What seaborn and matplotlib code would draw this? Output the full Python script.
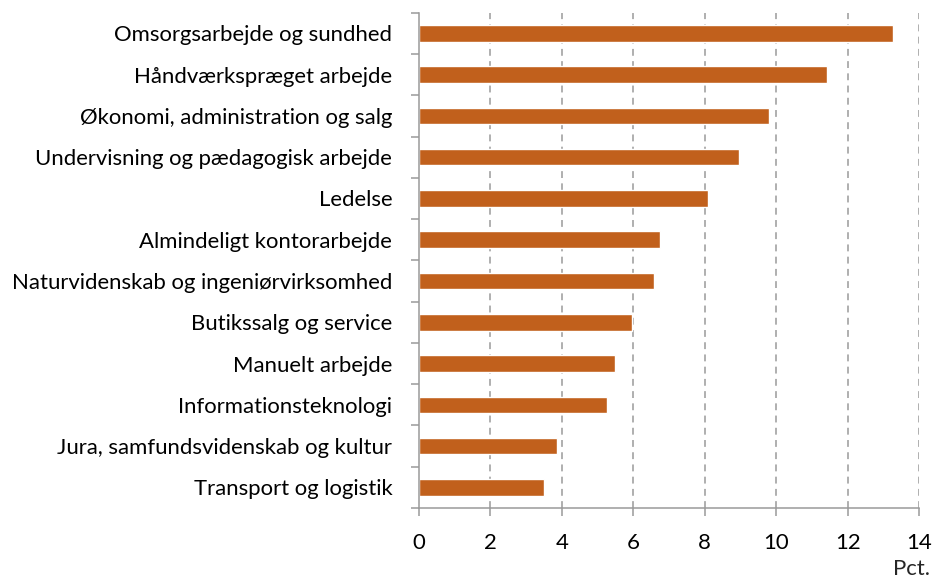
import matplotlib
matplotlib.use("Agg")
import matplotlib.pyplot as plt
import seaborn as sns
import pandas as pd

# Occupational groups and their shares (pct.)
categories = [
    "Omsorgsarbejde og sundhed",
    "Håndværkspræget arbejde",
    "Økonomi, administration og salg",
    "Undervisning og pædagogisk arbejde",
    "Ledelse",
    "Almindeligt kontorarbejde",
    "Naturvidenskab og ingeniørvirksomhed",
    "Butikssalg og service",
    "Manuelt arbejde",
    "Informationsteknologi",
    "Jura, samfundsvidenskab og kultur",
    "Transport og logistik",
]
values = [13.26, 11.41, 9.80, 8.95, 8.08, 6.76, 6.57, 5.95, 5.48, 5.27, 3.87, 3.49]
x_ticks = [0, 2, 4, 6, 8, 10, 12, 14]
x_unit = "Pct."

df = pd.DataFrame({"gruppe": categories, "pct": values})

sns.set_theme(style="white")
plt.rcParams["font.family"] = ["Lato", "DejaVu Sans"]

BAR = "#C1601C"
GREY = "#9A9A9A"
FS = 15.9

fig = plt.figure(figsize=(9.41, 5.79), dpi=100)
ax = fig.add_axes([0.445, 0.1226, 0.532, 0.8554])

sns.barplot(data=df, x="pct", y="gruppe", orient="h", color=BAR,
            width=0.4, saturation=1, ax=ax, zorder=3)

ax.set_xlim(0, 14)
ax.set_ylim(len(categories) - 0.5, -0.5)
ax.set_xticks(x_ticks)
ax.set_xticklabels([str(t) for t in x_ticks])
ax.set_xlabel("")
ax.set_ylabel("")

# Dashed vertical gridlines
for t in x_ticks[1:]:
    ax.axvline(t, color=GREY, lw=1.1, ls=(0, (4.5, 3.5)), zorder=1)

# Category labels in the middle of each slot, tick marks at the slot boundaries
ax.set_yticks(range(len(categories)))
ax.set_yticklabels(categories)
ax.set_yticks([i - 0.5 for i in range(len(categories) + 1)], minor=True)
ax.tick_params(axis="y", which="major", length=0, pad=19, labelsize=FS,
               labelcolor="black")
ax.tick_params(axis="y", which="minor", length=6, width=1.1, color=GREY,
               direction="out", left=True)
ax.tick_params(axis="x", which="major", length=6, width=1.1, color=GREY,
               direction="out", bottom=True, pad=12, labelsize=FS,
               labelcolor="black")

for side in ["top", "right"]:
    ax.spines[side].set_visible(False)
for side in ["left", "bottom"]:
    ax.spines[side].set_color(GREY)
    ax.spines[side].set_linewidth(1.1)
    ax.spines[side].set_zorder(4)

fig.text(0.988, 0.0, x_unit, ha="right", va="bottom", fontsize=FS)

fig.savefig("out.png", dpi=100)
